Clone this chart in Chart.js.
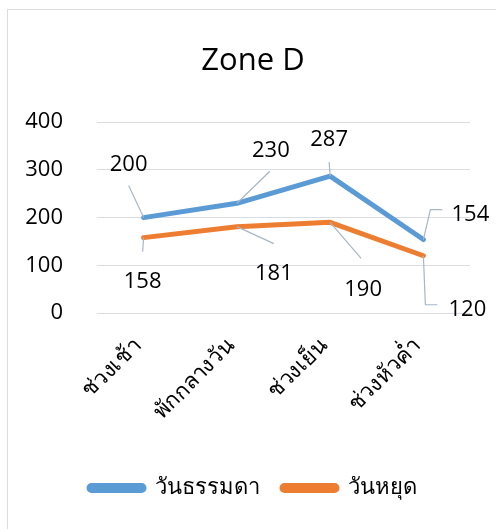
<!DOCTYPE html>
<html>
<head>
<meta charset="utf-8">
<script src="https://cdn.jsdelivr.net/npm/chart.js@4"></script>
<style>
  html, body { margin: 0; padding: 0; background: #fff; }
  #wrap { position: relative; width: 496px; height: 529px; overflow: hidden; }
  #frame { position: absolute; left: 7px; top: 9px; width: 600px; height: 600px; border: 1px solid #d9dde3; }
  canvas { position: absolute; left: 0; top: 0; }
</style>
</head>
<body>
<div id="wrap">
  <div id="frame"></div>
  <canvas id="zoneChart" width="496" height="529"></canvas>
</div>
<script>
// Zone D - counts per time of day
const categories = ['ช่วงเช้า', 'พักกลางวัน', 'ช่วงเย็น', 'ช่วงหัวค่ำ'];
const weekday = [200, 230, 287, 154];
const holiday = [158, 181, 190, 120];
const yTicks = [0, 100, 200, 300, 400];

const FONT = '"Open Sans", "Noto Sans", sans-serif';

// label offsets from each point: [labelDx, labelDy, path of leader line points...]
const labelSpots = [
  [
    { dx: -15, dy: -53, path: [[-15, -32]] },
    { dx: 34, dy: -53, path: [[33, -32]] },
    { dx: -1, dy: -36, path: [[-1, -14]] },
    { dx: 47, dy: -25, path: [[7, -30], [19, -30]] }
  ],
  [
    { dx: -1, dy: 44, path: [[-1, 14]] },
    { dx: 37, dy: 47, path: [[37, 17]] },
    { dx: 33, dy: 67, path: [[31, 36]] },
    { dx: 44, dy: 54, path: [[2, 49], [14, 49]] }
  ]
];

const valueLabels = {
  id: 'valueLabels',
  afterDatasetsDraw(chart) {
    const ctx = chart.ctx;
    ctx.save();
    chart.data.datasets.forEach((ds, di) => {
      const meta = chart.getDatasetMeta(di);
      meta.data.forEach((pt, i) => {
        const spot = labelSpots[di][i];
        ctx.strokeStyle = '#a9b6c6';
        ctx.lineWidth = 1.2;
        ctx.beginPath();
        ctx.moveTo(pt.x, pt.y);
        spot.path.forEach(p => ctx.lineTo(pt.x + p[0], pt.y + p[1]));
        ctx.stroke();
        ctx.fillStyle = '#000';
        ctx.font = '22px ' + FONT;
        ctx.textAlign = 'center';
        ctx.textBaseline = 'middle';
        ctx.fillText(String(ds.data[i]), pt.x + spot.dx, pt.y + spot.dy);
      });
    });
    ctx.restore();
  }
};

new Chart(document.getElementById('zoneChart'), {
  type: 'line',
  data: {
    labels: categories,
    datasets: [
      {
        label: 'วันธรรมดา',
        data: weekday,
        borderColor: '#5b9bd5',
        backgroundColor: '#5b9bd5',
        borderWidth: 5,
        borderCapStyle: 'round',
        borderJoinStyle: 'round',
        pointRadius: 0,
        tension: 0
      },
      {
        label: 'วันหยุด',
        data: holiday,
        borderColor: '#ed7d31',
        backgroundColor: '#ed7d31',
        borderWidth: 5,
        borderCapStyle: 'round',
        borderJoinStyle: 'round',
        pointRadius: 0,
        tension: 0
      }
    ]
  },
  options: {
    responsive: false,
    animation: false,
    layout: { padding: { left: 10, right: 0, top: 0, bottom: 20 } },
    scales: {
      x: {
        offset: true,
        grid: { display: false },
        border: { display: false },
        ticks: {
          color: '#000',
          font: { family: FONT, size: 22 },
          minRotation: 45,
          maxRotation: 45,
          padding: 12,
          labelOffset: -6
        },
        afterFit(scale) { scale.height = 142; }
      },
      y: {
        min: 0,
        max: 400,
        afterBuildTicks(scale) { scale.ticks = yTicks.map(v => ({ value: v })); },
        grid: { color: '#d9dde3', lineWidth: 1, drawTicks: false },
        border: { display: false },
        ticks: {
          color: '#000',
          font: { family: FONT, size: 22 },
          padding: 34
        },
        afterFit(scale) { scale.width = 87; }
      },
      // empty right-hand margin so the plot ends where the frame text is centred
      side: {
        position: 'right',
        grid: { display: false },
        border: { display: false },
        ticks: { display: false },
        afterFit(scale) { scale.width = 26; }
      }
    },
    plugins: {
      title: {
        display: true,
        text: 'Zone D',
        color: '#000',
        font: { family: FONT, size: 31, weight: 'normal' },
        padding: { top: 43, bottom: 42 }
      },
      legend: {
        position: 'bottom',
        labels: {
          color: '#000',
          font: { family: FONT, size: 22 },
          boxWidth: 55,
          boxHeight: 5,
          useBorderRadius: true,
          borderRadius: 2.5,
          padding: 22
        }
      },
      tooltip: { enabled: false }
    }
  },
  plugins: [valueLabels]
});
</script>
</body>
</html>
